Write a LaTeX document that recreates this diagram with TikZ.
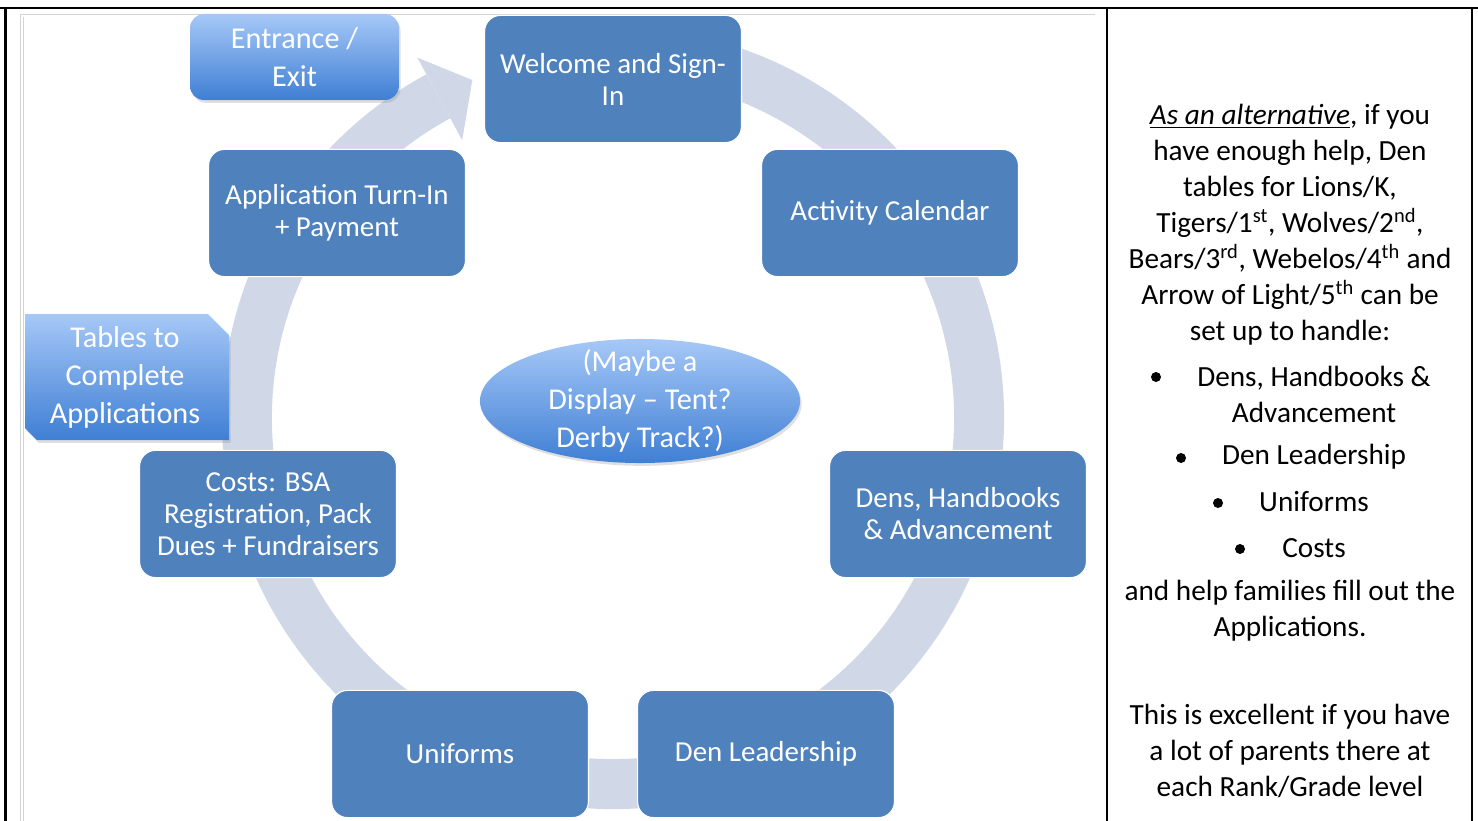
\documentclass[tikz,border=0pt]{standalone}
\usepackage{fontspec}
\setmainfont{Carlito}
\usepackage{tikz}
\usetikzlibrary{shadows}
\definecolor{stageblue}{HTML}{4F81BD}
\definecolor{ringgrey}{HTML}{D0D8E8}
\definecolor{calltop}{HTML}{A6C8F7}
\definecolor{callbot}{HTML}{3F7FD4}
\definecolor{pagegrey}{HTML}{D4D4D4}
\tikzstyle{stage}=[rectangle,rounded corners=0.4cm,fill=stageblue,draw=white,line width=0.8pt,minimum width=6.42cm,minimum height=3.18cm,text=white,align=center,font=\fontsize{20.6}{22.8}\selectfont]
\tikzstyle{calltext}=[text=white,align=center,font=\fontsize{21.5}{27}\selectfont]
\tikzstyle{callout}=[calltext,top color=calltop,bottom color=callbot,drop shadow={opacity=0.25,shadow xshift=0.04cm,shadow yshift=-0.07cm}]
\tikzstyle{ring}=[line width=1.25cm,draw=ringgrey]
\tikzstyle{frame}=[line width=1.8pt,black]
\tikzstyle{note}=[align=center,font=\fontsize{20.8}{25.6}\selectfont]
\tikzstyle{dot}=[circle,fill=black,inner sep=0pt,minimum size=0.25cm]

\begin{document}
\begin{tikzpicture}[x=0.025cm,y=0.025cm]
          \useasboundingbox (0,0) rectangle (1478,-821);
          \coordinate (hub) at (613,-418);

          \draw[pagegrey] (20,-821) -- (20,-14) -- (1095,-14);
          \draw[pagegrey] (23,-821) -- (23,-17);

          \draw[ring] (hub) ++(90:9.15cm) arc[start angle=90,end angle=-241.5,radius=9.15cm];
          \fill[ringgrey] (hub) +(118.5:7.9cm) -- +(118.5:10.25cm) -- +(112.6:9.15cm) -- cycle;

          \node[stage] (welcome) at (613,-79) {Welcome and Sign-\\In};
          \node[stage] (calendar) at (890,-213) {Activity Calendar};
          \node[stage] (dens) at (958,-514) {Dens, Handbooks\\\& Advancement};
          \node[stage] (leaders) at (766,-754) {Den Leadership};
          \node[stage] (uniforms) at (460,-754) {Uniforms};
          \node[stage] (costs) at (268,-514) {Costs: BSA\\Registration, Pack\\Dues + Fundraisers};
          \node[stage] (apply) at (337,-213) {Application Turn-In\\+ Payment};

          \node[callout,rounded corners=0.35cm,minimum width=5.22cm,minimum height=2.15cm] (entrance) at (294.5,-57) {Entrance /\\Exit};
          \shade[callout] (25,-314) -- (208,-314) -- (229,-335) -- (229,-440) -- (37,-440) -- (25,-428) -- cycle;
          \node[calltext] (tables) at (125,-377) {Tables to\\Complete\\Applications};
          \shade[callout] (640,-401) ellipse[x radius=4cm,y radius=1.55cm];
          \node[calltext] (display) at (640,-401) {(Maybe a\\Display -- Tent?\\Derby Track?)};

          \node[note] (alt) at (1290,-225) {\underline{\textit{As an alternative}}, if you\\have enough help, Den\\tables for Lions/K,\\Tigers/1\textsuperscript{st}, Wolves/2\textsuperscript{nd},\\Bears/3\textsuperscript{rd}, Webelos/4\textsuperscript{th} and\\Arrow of Light/5\textsuperscript{th} can be\\set up to handle:};
          \node[dot] (dot1) at (1156,-377) {};
          \node[note] (item1) at (1314,-394) {Dens, Handbooks \&\\Advancement};
          \node[dot] (dot2) at (1181,-458) {};
          \node[note] (item2) at (1314,-457) {Den Leadership};
          \node[dot] (dot3) at (1218,-503) {};
          \node[note] (item3) at (1314,-502) {Uniforms};
          \node[dot] (dot4) at (1240,-549) {};
          \node[note] (item4) at (1314,-548) {Costs};
          \node[note] (help) at (1290,-611) {and help families fill out the\\Applications.};
          \node[note] (excel) at (1290,-751) {This is excellent if you have\\a lot of parents there at\\each Rank/Grade level};

          \draw[frame] (0,-8) -- (1478,-8);
          \draw[frame] (5.5,-8) -- (5.5,-821);
          \draw[frame] (1107,-8) -- (1107,-821);
          \draw[frame] (1472,-8) -- (1472,-821);
        \end{tikzpicture}
\end{document}
